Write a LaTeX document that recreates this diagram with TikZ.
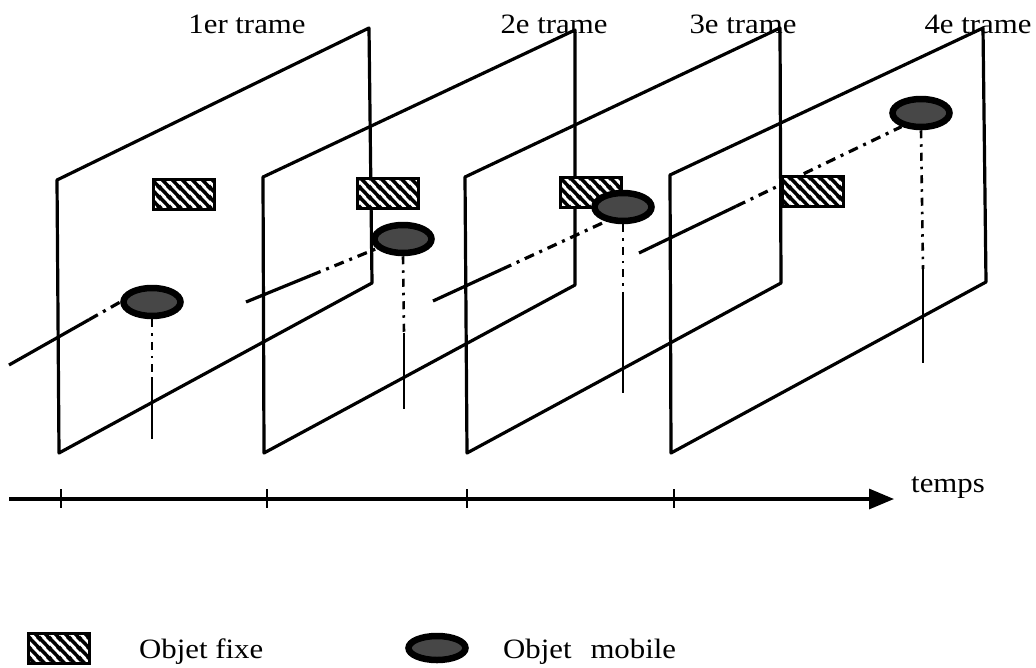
\documentclass[tikz,border=0pt]{standalone}
\usepackage{fontspec}
\setmainfont{Liberation Serif}[FakeStretch=1.1]
\usetikzlibrary{arrows.meta,shapes.geometric,patterns.meta,calc,backgrounds}

% thick diagonal hatching for the fixed objects
\tikzdeclarepattern{
  name=thickhatch,
  type=uncolored,
  bounding box={(0pt,0pt) and (10pt,10pt)},
  tile size={(10pt,10pt)},
  code={
    \draw[line width=3.8pt] (-2pt,12pt) -- (12pt,-2pt);
    \draw[line width=3.8pt] (-2pt,2pt) -- (2pt,-2pt);
    \draw[line width=3.8pt] (8pt,12pt) -- (12pt,8pt);
  }
}

\begin{document}
\begin{tikzpicture}[x=1pt,y=-1pt,
  frame/.style={line width=3.2pt, line join=round},
  track/.style={line width=3.2pt},
  trackdd/.style={line width=3.2pt, dash pattern=on 10pt off 6pt on 3pt off 6pt},
  drop/.style={line width=2.6pt, dash pattern=on 8pt off 6pt on 2.5pt off 6pt},
  dropsolid/.style={line width=2.4pt},
  fixe/.style={rectangle, draw, line width=3pt, minimum width=61pt,
    minimum height=30pt, inner sep=0pt, preaction={fill=white},
    pattern=thickhatch, pattern color=black},
  mobile/.style={ellipse, draw, line width=6.5pt, fill=black!72,
    minimum width=57pt, minimum height=28pt, inner sep=0pt},
  lbl/.style={anchor=base, inner sep=0pt, font=\fontsize{28pt}{32pt}\selectfont},
  axisline/.style={line width=3.2pt},
  tick/.style={line width=2.4pt},
]
\useasboundingbox (0,0) rectangle (1036,667);

% frame corners
\coordinate (f1tl) at (57,180);  \coordinate (f1tr) at (369,28);
\coordinate (f1br) at (372,283); \coordinate (f1bl) at (59,453);
\coordinate (f2tl) at (263,177); \coordinate (f2tr) at (575,30);
\coordinate (f2br) at (575,285); \coordinate (f2bl) at (264,453);
\coordinate (f3tl) at (465,177); \coordinate (f3tr) at (780,28);
\coordinate (f3br) at (781,283); \coordinate (f3bl) at (467,453);
\coordinate (f4tl) at (670,175); \coordinate (f4tr) at (983,28);
\coordinate (f4br) at (986,282); \coordinate (f4bl) at (671,453);

% fixed and moving objects
\node[fixe] (r1) at (184,194) {};
\node[mobile] (e1) at (152,302) {};
\node[fixe] (r2) at (388,193.5) {};
\node[mobile] (e2) at (403,239) {};
\node[fixe] (r3) at (591,192.5) {};
\node[mobile] (e3) at (623,207) {};
\node[fixe] (r4) at (813,191) {};
\node[mobile] (e4) at (921,113) {};

% frame titles
\node[lbl] (l1) at (247,33) {1er trame};
\node[lbl] (l2) at (554,33) {2e trame};
\node[lbl] (l3) at (743,33) {3e trame};
\node[lbl] (l4) at (978,33) {4e trame};

% time axis
\coordinate (ax0) at (9,499);
\coordinate (ax1) at (894,499);
\node[lbl] (lt) at (948,492) {temps};

% legend
\node[fixe] (lr) at (59,648) {};
\node[lbl, anchor=base west] (lrt) at (139,658) {Objet fixe};
\node[mobile, minimum height=24pt] (le) at (437,648) {};
\node[lbl, anchor=base west] (let) at (503,658) {Objet\hspace{0.4em} mobile};

% track start points and where the solid part stops
\coordinate (t1a) at (9,365);   \coordinate (t1b) at ($(t1a)!0.72!(e1.west)$);
\coordinate (t2a) at (246,302); \coordinate (t2b) at ($(t2a)!0.5!(e2.200)$);
\coordinate (t3a) at (433,301); \coordinate (t3b) at ($(t3a)!0.4!(e3.220)$);
\coordinate (t4a) at (639,253); \coordinate (t4b) at ($(t4a)!0.37!(e4.215)$);

% vertical drop lines
\coordinate (v1m) at (152,377); \coordinate (v1e) at (152,439);
\coordinate (v2m) at (404,333); \coordinate (v2e) at (404,409);
\coordinate (v3m) at (623,298); \coordinate (v3e) at (623,393);
\coordinate (v4m) at (923,269); \coordinate (v4e) at (923,363);

\begin{pgfonlayer}{background}
  \draw[frame] (f1tl) -- (f1tr) -- (f1br) -- (f1bl) -- cycle;
  \draw[frame] (f2tl) -- (f2tr) -- (f2br) -- (f2bl) -- cycle;
  \draw[frame] (f3tl) -- (f3tr) -- (f3br) -- (f3bl) -- cycle;
  \draw[frame] (f4tl) -- (f4tr) -- (f4br) -- (f4bl) -- cycle;

  \draw[track] (t1a) -- (t1b);  \draw[trackdd] (t1b) -- (e1.west);
  \draw[track] (t2a) -- (t2b);  \draw[trackdd] (t2b) -- (e2.200);
  \draw[track] (t3a) -- (t3b);  \draw[trackdd] (t3b) -- (e3.220);
  \draw[track] (t4a) -- (t4b);  \draw[trackdd] (t4b) -- (e4.215);

  \draw[drop] (e1.south) -- (v1m);  \draw[dropsolid] (v1m) -- (v1e);
  \draw[drop] (e2.south) -- (v2m);  \draw[dropsolid] (v2m) -- (v2e);
  \draw[drop] (e3.south) -- (v3m);  \draw[dropsolid] (v3m) -- (v3e);
  \draw[drop] (e4.south) -- (v4m);  \draw[dropsolid] (v4m) -- (v4e);
\end{pgfonlayer}

\draw[axisline, -{Triangle[length=25pt,width=20pt]}] (ax0) -- (ax1);
\foreach \tx in {61,267,467,674}
  \draw[tick] (\tx,489) -- (\tx,508);
\end{tikzpicture}
\end{document}
